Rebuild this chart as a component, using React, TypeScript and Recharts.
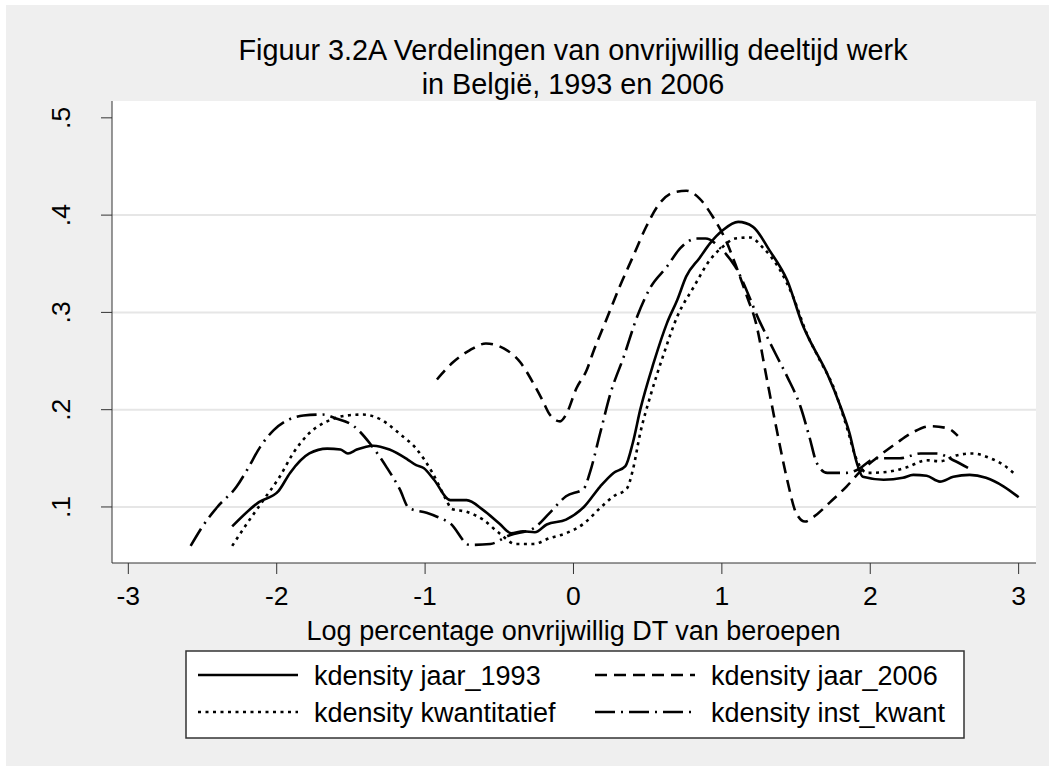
import React from 'react';
import { LineChart, Line, XAxis, YAxis, ReferenceLine } from 'recharts';

// kdensity curves: [log percentage, density]
const jaar1993: [number, number][] = [
  [-2.3, 0.08], [-2.12, 0.105], [-1.99, 0.116], [-1.91, 0.135], [-1.78, 0.155], [-1.66, 0.16],
  [-1.57, 0.159], [-1.52, 0.155], [-1.46, 0.159], [-1.35, 0.163], [-1.24, 0.159], [-1.12, 0.149],
  [-1.06, 0.143], [-1.01, 0.14], [-0.94, 0.128], [-0.83, 0.107], [-0.72, 0.107], [-0.61, 0.097],
  [-0.5, 0.083], [-0.42, 0.073], [-0.34, 0.075], [-0.26, 0.074], [-0.18, 0.082], [-0.05, 0.087],
  [0.07, 0.1], [0.18, 0.121], [0.27, 0.135], [0.35, 0.142], [0.4, 0.166], [0.45, 0.2],
  [0.54, 0.248], [0.63, 0.289], [0.7, 0.313], [0.76, 0.337], [0.85, 0.356], [0.92, 0.371],
  [1.01, 0.385], [1.11, 0.393], [1.21, 0.388], [1.32, 0.364], [1.44, 0.333], [1.55, 0.285],
  [1.59, 0.272], [1.71, 0.237], [1.8, 0.203], [1.86, 0.176], [1.91, 0.145], [1.95, 0.131],
  [2.09, 0.128], [2.22, 0.13], [2.29, 0.133], [2.38, 0.132], [2.47, 0.126], [2.56, 0.131],
  [2.67, 0.133], [2.78, 0.13], [2.9, 0.121], [3.0, 0.11],
];

const jaar2006: [number, number][] = [
  [-0.92, 0.231], [-0.81, 0.249], [-0.7, 0.261], [-0.59, 0.268], [-0.47, 0.263], [-0.36, 0.249],
  [-0.27, 0.227], [-0.21, 0.21], [-0.16, 0.195], [-0.09, 0.188], [-0.05, 0.195], [0.02, 0.222],
  [0.09, 0.241], [0.13, 0.258], [0.22, 0.292], [0.31, 0.326], [0.4, 0.357], [0.49, 0.388],
  [0.58, 0.412], [0.67, 0.423], [0.76, 0.425], [0.85, 0.417], [0.94, 0.398], [1.03, 0.373],
  [1.09, 0.35], [1.17, 0.316], [1.23, 0.289], [1.3, 0.234], [1.37, 0.179], [1.44, 0.128],
  [1.5, 0.094], [1.56, 0.085], [1.62, 0.09], [1.73, 0.105], [1.84, 0.121], [1.93, 0.136],
  [2.04, 0.15], [2.18, 0.166], [2.29, 0.177], [2.4, 0.183], [2.52, 0.181], [2.59, 0.173],
];

const kwantitatief: [number, number][] = [
  [-2.3, 0.06], [-2.2, 0.083], [-2.09, 0.107], [-1.98, 0.131], [-1.89, 0.155], [-1.78, 0.176],
  [-1.66, 0.188], [-1.53, 0.194], [-1.42, 0.195], [-1.3, 0.19], [-1.17, 0.175], [-1.06, 0.16],
  [-0.95, 0.135], [-0.86, 0.108], [-0.82, 0.098], [-0.72, 0.095], [-0.61, 0.087], [-0.5, 0.073],
  [-0.39, 0.062], [-0.27, 0.062], [-0.16, 0.068], [-0.05, 0.073], [0.07, 0.083], [0.18, 0.099],
  [0.27, 0.111], [0.36, 0.119], [0.4, 0.138], [0.45, 0.176], [0.52, 0.215], [0.61, 0.258],
  [0.7, 0.296], [0.81, 0.326], [0.92, 0.354], [1.01, 0.368], [1.09, 0.376], [1.19, 0.377],
  [1.28, 0.366], [1.39, 0.344], [1.48, 0.316], [1.57, 0.279], [1.66, 0.251], [1.75, 0.224],
  [1.84, 0.183], [1.91, 0.148], [1.98, 0.135], [2.11, 0.136], [2.25, 0.141], [2.38, 0.148],
  [2.47, 0.147], [2.58, 0.153], [2.69, 0.155], [2.81, 0.15], [2.9, 0.143], [2.98, 0.133],
];

const instKwant: [number, number][] = [
  [-2.58, 0.06], [-2.5, 0.08], [-2.4, 0.1], [-2.27, 0.121], [-2.2, 0.138], [-2.11, 0.162],
  [-2.02, 0.179], [-1.93, 0.189], [-1.82, 0.194], [-1.69, 0.195], [-1.6, 0.191], [-1.48, 0.183],
  [-1.37, 0.165], [-1.26, 0.141], [-1.17, 0.118], [-1.11, 0.099], [-0.99, 0.094], [-0.92, 0.09],
  [-0.83, 0.083], [-0.7, 0.061], [-0.56, 0.062], [-0.43, 0.071], [-0.27, 0.078], [-0.16, 0.094],
  [-0.05, 0.111], [0.07, 0.119], [0.11, 0.135], [0.18, 0.176], [0.25, 0.217], [0.34, 0.255],
  [0.43, 0.296], [0.52, 0.326], [0.63, 0.347], [0.72, 0.366], [0.83, 0.376], [0.89, 0.376],
  [0.99, 0.366], [1.09, 0.347], [1.26, 0.289], [1.36, 0.258], [1.44, 0.234], [1.53, 0.203],
  [1.59, 0.172], [1.64, 0.145], [1.71, 0.135], [1.84, 0.135], [1.91, 0.138], [2.04, 0.15],
  [2.2, 0.15], [2.34, 0.155], [2.45, 0.155], [2.56, 0.148], [2.66, 0.14],
];

const xTicks = [-3, -2, -1, 0, 1, 2, 3];
const yTicks = [0.1, 0.2, 0.3, 0.4, 0.5];
const gridValues = [0.1, 0.2, 0.3, 0.4];

const titleLines = ['Figuur 3.2A Verdelingen van onvrijwillig deeltijd werk', 'in België, 1993 en 2006'];
const xLabel = 'Log percentage onvrijwillig DT van beroepen';

const FONT = '"Liberation Sans", Arial, sans-serif';

const series = [
  { name: 'kdensity jaar_1993', points: jaar1993, dash: undefined },
  { name: 'kdensity jaar_2006', points: jaar2006, dash: '12 7' },
  { name: 'kdensity kwantitatief', points: kwantitatief, dash: '3 4.5' },
  { name: 'kdensity inst_kwant', points: instKwant, dash: '20 6 2 6' },
];

const toRows = (pts: [number, number][]) => pts.map(([x, y]) => ({ x, y }));

const fmtY = (v: number) => String(v).replace(/^0/, '');

const XTick = (props: any) => {
  const { x, y, payload } = props;
  return (
    <text x={x} y={y + 31} textAnchor="middle" fontSize={26.5} fontFamily={FONT} fill="#000">
      {payload.value}
    </text>
  );
};

const YTick = (props: any) => {
  const { y, payload } = props;
  const bx = 70;
  return (
    <text
      x={bx}
      y={y}
      textAnchor="middle"
      transform={`rotate(-90, ${bx}, ${y})`}
      fontSize={26.5}
      fontFamily={FONT}
      fill="#000"
    >
      {fmtY(payload.value)}
    </text>
  );
};

export default function App() {
  return (
    <div style={{ position: 'absolute', left: 0, top: 0, width: 1049, height: 770, background: '#fff' }}>
      <div style={{ position: 'absolute', left: 6, top: 5, width: 1043, height: 761, background: '#efefef' }} />
      <div style={{ position: 'absolute', left: 112, top: 101, width: 924, height: 462, background: '#fff' }} />
      <div style={{ position: 'absolute', left: 0, top: 0 }}>
        <LineChart width={1049} height={770} margin={{ top: 101, right: 13, bottom: 147, left: 0 }}>
          {gridValues.map((v) => (
            <ReferenceLine key={v} y={v} stroke="#e6e6e6" strokeWidth={2} />
          ))}
          <XAxis
            type="number"
            dataKey="x"
            domain={[-3.11, 3.117]}
            ticks={xTicks}
            allowDataOverflow
            height={60}
            tickSize={11}
            tickMargin={0}
            tick={<XTick />}
            stroke="#333"
            interval={0}
          />
          <YAxis
            type="number"
            dataKey="y"
            domain={[0.0424, 0.5173]}
            ticks={yTicks}
            allowDataOverflow
            width={112}
            tickSize={11}
            tickMargin={0}
            tick={<YTick />}
            stroke="#333"
            interval={0}
          />
          {series.map((s) => (
            <Line
              key={s.name}
              data={toRows(s.points)}
              dataKey="y"
              type="monotone"
              stroke="#000"
              strokeWidth={2.6}
              strokeDasharray={s.dash}
              dot={false}
              activeDot={false}
              isAnimationActive={false}
            />
          ))}
        </LineChart>
      </div>
      <svg
        width={1049}
        height={770}
        style={{ position: 'absolute', left: 0, top: 0, pointerEvents: 'none' }}
        fontFamily={FONT}
      >
        {titleLines.map((t, i) => (
          <text key={t} x={573} y={60 + i * 34} textAnchor="middle" fontSize={28.8} fill="#000">
            {t}
          </text>
        ))}
        <text x={573.5} y={640} textAnchor="middle" fontSize={27} fill="#000">
          {xLabel}
        </text>
        <rect x={186} y={651} width={778} height={87} fill="#fff" stroke="#333" strokeWidth={1.5} />
        {series.map((s, i) => {
          const col = i % 2;
          const row = Math.floor(i / 2);
          const lx = col === 0 ? 198 : 595;
          const ly = row === 0 ? 675 : 712;
          return (
            <g key={s.name}>
              <line x1={lx} x2={lx + 100} y1={ly} y2={ly} stroke="#000" strokeWidth={2.6} strokeDasharray={s.dash} />
              <text x={lx + 116} y={ly + 9.5} fontSize={27} fill="#000">
                {s.name}
              </text>
            </g>
          );
        })}
      </svg>
    </div>
  );
}
